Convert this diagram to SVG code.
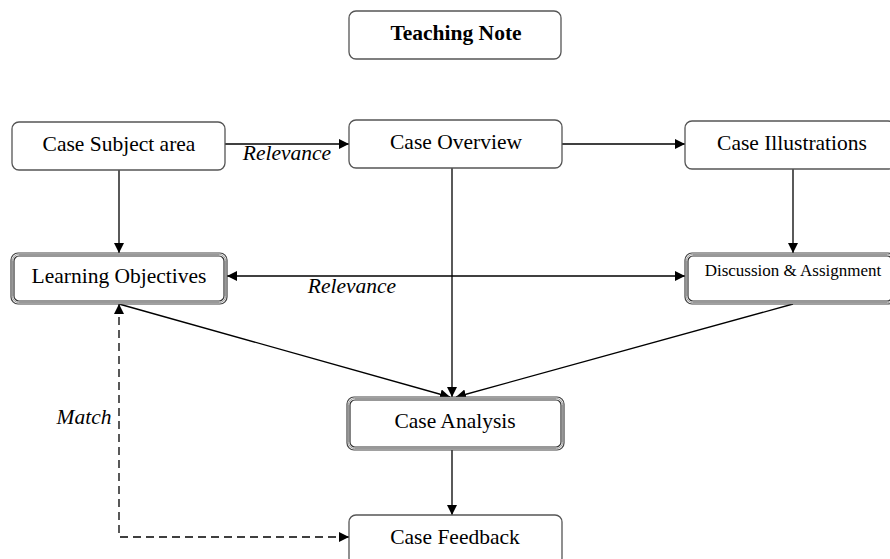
<svg xmlns="http://www.w3.org/2000/svg" width="890" height="559" viewBox="0 0 890 559">
<style>
.box{fill:#fff;stroke:#555;stroke-width:1.3}
.dbl-o{fill:#fff;stroke:#444;stroke-width:1.2}
.dbl-m{fill:none;stroke:#999;stroke-width:1}
.dbl-i{fill:none;stroke:#333;stroke-width:1.2}
.t{font-family:"Liberation Serif","Times New Roman",serif;font-size:21.5px;fill:#000;text-anchor:middle}
.b{font-weight:bold}
.it{font-style:italic}
.c{stroke:#000;stroke-width:1.3;fill:none}
.d{stroke-dasharray:8,5}
</style>
<defs>
<marker id="ah" viewBox="0 0 10 10" refX="10" refY="5" markerWidth="10" markerHeight="10" markerUnits="userSpaceOnUse" orient="auto-start-reverse">
<path d="M0,0 L10,5 L0,10 z" fill="#000"/>
</marker>
</defs>
<rect width="890" height="559" fill="#fff"/>

<g id="connectors">
<line class="c" x1="225" y1="144" x2="349" y2="144" marker-end="url(#ah)"/>
<line class="c" x1="562" y1="144" x2="685" y2="144" marker-end="url(#ah)"/>
<line class="c" x1="119" y1="170" x2="119" y2="253" marker-end="url(#ah)"/>
<line class="c" x1="793" y1="169" x2="793" y2="253" marker-end="url(#ah)"/>
<line class="c" x1="227" y1="276" x2="685" y2="276" marker-start="url(#ah)" marker-end="url(#ah)"/>
<line class="c" x1="452" y1="168" x2="452" y2="397" marker-end="url(#ah)"/>
<line class="c" x1="119" y1="304" x2="450" y2="397" marker-end="url(#ah)"/>
<line class="c" x1="793" y1="304" x2="456" y2="397" marker-end="url(#ah)"/>
<line class="c" x1="452" y1="450" x2="452" y2="515" marker-end="url(#ah)"/>
<polyline class="c d" points="349,537 119,537 119,304" marker-start="url(#ah)" marker-end="url(#ah)"/>
<text class="t it" x="287" y="160">Relevance</text>
<text class="t it" x="352" y="293">Relevance</text>
<text class="t it" x="84" y="424">Match</text>
</g>

<g id="teaching-note">
<rect class="box" x="349" y="11" width="212" height="48" rx="7"/>
<text class="t b" x="456" y="40">Teaching Note</text>
</g>

<g id="case-subject-area">
<rect class="box" x="12" y="122" width="213" height="48" rx="7"/>
<text class="t" x="119" y="151">Case Subject area</text>
</g>

<g id="case-overview">
<rect class="box" x="349" y="120" width="213" height="48" rx="7"/>
<text class="t" x="456" y="149">Case Overview</text>
</g>

<g id="case-illustrations">
<rect class="box" x="685" y="121" width="210" height="48" rx="7"/>
<text class="t" x="792" y="150">Case Illustrations</text>
</g>

<g id="learning-objectives">
<rect class="dbl-o" x="11" y="253" width="216" height="51" rx="7"/>
<rect class="dbl-m" x="12.5" y="254.5" width="213" height="48" rx="6"/>
<rect class="dbl-i" x="14" y="256" width="210" height="45" rx="5"/>
<text class="t" x="119" y="283">Learning Objectives</text>
</g>

<g id="discussion-assignment">
<rect class="dbl-o" x="685" y="253" width="210" height="51" rx="7"/>
<rect class="dbl-m" x="686.5" y="254.5" width="207" height="48" rx="6"/>
<rect class="dbl-i" x="688" y="256" width="204" height="45" rx="5"/>
<text class="t" x="793" y="276" style="font-size:17px">Discussion &amp; Assignment</text>
</g>

<g id="case-analysis">
<rect class="dbl-o" x="347" y="397" width="217" height="53" rx="7"/>
<rect class="dbl-m" x="348.5" y="398.5" width="214" height="50" rx="6"/>
<rect class="dbl-i" x="350" y="400" width="211" height="47" rx="5"/>
<text class="t" x="455" y="428">Case Analysis</text>
</g>

<g id="case-feedback">
<rect class="box" x="349" y="515" width="213" height="50" rx="7"/>
<text class="t" x="455" y="544">Case Feedback</text>
</g>
</svg>
